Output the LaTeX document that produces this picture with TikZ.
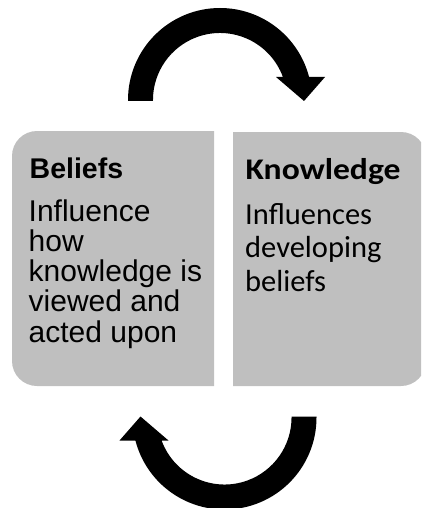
\documentclass[tikz,border=0pt]{standalone}
\usepackage{fontspec}
\setmainfont{Liberation Sans}
\newfontfamily\carlito{Carlito}
\newfontfamily\carlitowide[FakeStretch=1.12]{Carlito}
\definecolor{panelgray}{RGB}{191,191,191}
\begin{document}
\begin{tikzpicture}[x=1pt,y=1pt,
  panel/.style={fill=panelgray},
  loop arrow/.style={fill=black},
  beliefhead/.style={anchor=base west,inner sep=0pt,font=\bfseries\fontsize{28.5}{30}\selectfont},
  beliefbody/.style={anchor=base west,inner sep=0pt,font=\fontsize{30}{30}\selectfont},
  knowhead/.style={anchor=base west,inner sep=0pt,font=\carlitowide\bfseries\fontsize{30}{34}\selectfont},
  knowbody/.style={anchor=base west,inner sep=0pt,font=\carlito\fontsize{30.5}{34}\selectfont}]
\useasboundingbox (0,0) rectangle (421,-508);
\clip (0,0) rectangle (421,-508);

% curved arrow over the top, turning clockwise
\path[loop arrow] (128,-101) -- (128,-100)
  arc[start angle=180,end angle=14.48,radius=92]
  -- (325,-77) -- (304,-101) -- (276,-77) -- (282.9,-77)
  arc[start angle=20.07,end angle=180,radius=67]
  -- (153,-101) -- cycle;

% the same arrow turned half round, underneath
\begin{scope}[rotate around={180:(222.25,-258.75)}]
\path[loop arrow] (128,-101) -- (128,-100)
  arc[start angle=180,end angle=14.48,radius=92]
  -- (325,-77) -- (304,-101) -- (276,-77) -- (282.9,-77)
  arc[start angle=20.07,end angle=180,radius=67]
  -- (153,-101) -- cycle;
\end{scope}

% the two panels
\path[panel] (214,-131) -- (37,-131)
  arc[start angle=90,end angle=180,radius=25] -- (12,-361)
  arc[start angle=180,end angle=270,radius=25] -- (214,-386) -- cycle;
\path[panel] (233,-132) -- (401,-132)
  arc[start angle=90,end angle=0,radius=25] -- (426,-361)
  arc[start angle=0,end angle=-90,radius=25] -- (233,-386) -- cycle;

% Beliefs panel text
\node[beliefhead] (bh) at (29.5,-178.3) {Beliefs};
\node[beliefbody] (b1) at (28.5,-221) {Influence};
\node[beliefbody] (b2) at (28.5,-251.3) {how};
\node[beliefbody] (b3) at (28.5,-281.6) {knowledge is};
\node[beliefbody] (b4) at (28.5,-311.9) {viewed and};
\node[beliefbody] (b5) at (28.5,-342.2) {acted upon};

% Knowledge panel text
\node[knowhead] (kh) at (245.5,-179.3) {Knowledge};
\node[knowbody] (k1) at (245,-224) {Influences};
\node[knowbody] (k2) at (245,-257.8) {developing};
\node[knowbody] (k3) at (245,-291.7) {beliefs};
\end{tikzpicture}
\end{document}
